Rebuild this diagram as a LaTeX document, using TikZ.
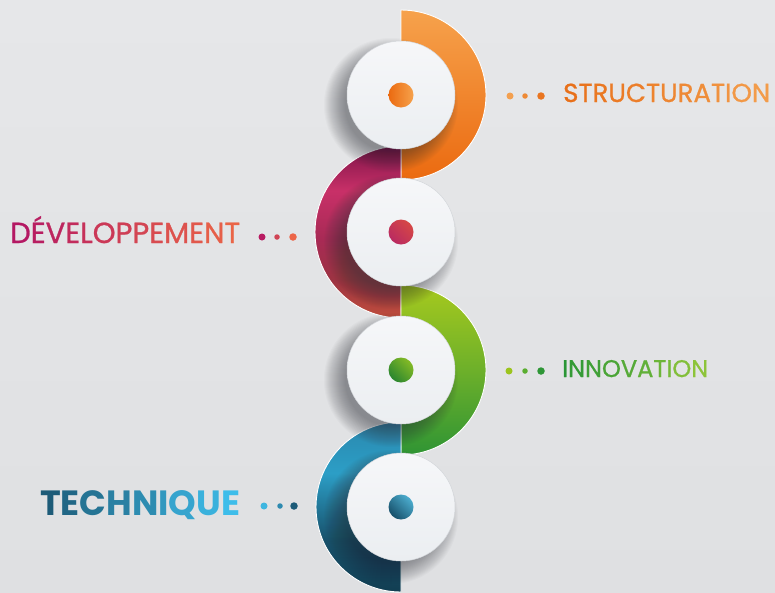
\documentclass[tikz,border=0pt]{standalone}
\usepackage{fontspec}
\setmainfont{Poppins}
\newfontfamily\medfont[FakeBold=0.9]{Poppins}
\definecolor{bgA}{HTML}{E6E7E9}
\definecolor{bgB}{HTML}{DFE0E2}
\definecolor{orT}{HTML}{F6A24C}
\definecolor{orB}{HTML}{EB6A10}
\definecolor{mg1}{HTML}{C04E3C}
\definecolor{mg2}{HTML}{9C3342}
\definecolor{mg3}{HTML}{A82A55}
\definecolor{mg4}{HTML}{C83068}
\definecolor{mg5}{HTML}{7E1348}
\definecolor{gr1}{HTML}{2F9434}
\definecolor{gr2}{HTML}{6DB02A}
\definecolor{gr3}{HTML}{A6C91E}
\definecolor{bl1}{HTML}{123E52}
\definecolor{bl2}{HTML}{17506A}
\definecolor{bl3}{HTML}{2C9EC6}
\definecolor{bl4}{HTML}{2A88AE}
\definecolor{discT}{HTML}{F6F7F9}
\definecolor{discB}{HTML}{EBEEF1}
\definecolor{discE}{HTML}{D3D6DA}
\definecolor{shd}{HTML}{30323A}
\definecolor{oA}{HTML}{E8701A}\definecolor{oB}{HTML}{F39C4A}
\definecolor{mA}{HTML}{B41863}\definecolor{mB}{HTML}{EA6547}
\definecolor{gA1}{HTML}{2A9636}\definecolor{gB1}{HTML}{8DC43A}
\definecolor{tA}{HTML}{1D5B78}\definecolor{tB}{HTML}{3EBDEA}
\definecolor{dO1}{HTML}{F3A050}\definecolor{dO2}{HTML}{EE8A35}\definecolor{dO3}{HTML}{E97520}
\definecolor{dM1}{HTML}{B81B62}\definecolor{dM2}{HTML}{D04455}\definecolor{dM3}{HTML}{EC6548}
\definecolor{dG1}{HTML}{9CC41E}\definecolor{dG2}{HTML}{5AAE30}\definecolor{dG3}{HTML}{2E9636}
\definecolor{dB1}{HTML}{3EB6E0}\definecolor{dB2}{HTML}{2E8AB0}\definecolor{dB3}{HTML}{1D5B78}
\pgfdeclareverticalshading{shOr}{100bp}{color(0bp)=(orB); color(25bp)=(orB); color(75bp)=(orT); color(100bp)=(orT)}
\pgfdeclareverticalshading{shMg}{100bp}{color(0bp)=(mg1); color(25bp)=(mg1); color(36bp)=(mg2); color(48bp)=(mg3); color(62bp)=(mg4); color(75bp)=(mg5); color(100bp)=(mg5)}
\pgfdeclareverticalshading{shGr}{100bp}{color(0bp)=(gr1); color(25bp)=(gr1); color(50bp)=(gr2); color(75bp)=(gr3); color(100bp)=(gr3)}
\pgfdeclareverticalshading{shBl}{100bp}{color(0bp)=(bl1); color(25bp)=(bl1); color(40bp)=(bl2); color(60bp)=(bl3); color(75bp)=(bl4); color(100bp)=(bl4)}
% #1 first colour, #2 last colour, #3 percent of last colour, #4 letter
\newcommand\gch[4]{{\color{#2!#3!#1}#4}}
\begin{document}
\begin{tikzpicture}[x=1pt,y=-1pt,
  ringedge/.style={draw=white, line width=0.9pt},
  disc/.style={circle, minimum size=108pt, inner sep=0pt, top color=discT, bottom color=discB, draw=discE, line width=0.5pt},
  softshade/.style={fill=shd, opacity=0.027},
  core/.style={circle, minimum size=25pt, inner sep=0pt},
  tdot/.style={circle, inner sep=0pt, minimum size=#1},
  lbl/.style={anchor=base west, inner sep=0pt}]
\useasboundingbox (0,0) rectangle (775,592);
\fill[top color=bgA, bottom color=bgB] (0,0) rectangle (775,592);

% half rings
\path[shading=shOr, ringedge] (401,10) arc[start angle=-90, end angle=90, radius=85] -- cycle;
\path[shading=shMg, ringedge] (401,146) arc[start angle=-90, end angle=-270, radius=86] -- cycle;
\path[shading=shGr, ringedge] (401,285) arc[start angle=-90, end angle=90, radius=85] -- cycle;
\path[shading=shBl, ringedge] (401,422) arc[start angle=-90, end angle=-270, radius=85] -- cycle;

% soft shadows of the discs
\foreach \cy in {95,232,370,507}{
  \foreach \r in {46,...,67}{
    \fill[softshade] (391,\cy+10) circle[radius=\r];
  }
}

% white discs
\node[disc] (c1) at (401,95) {};
\node[disc] (c2) at (401,232) {};
\node[disc] (c3) at (401,370) {};
\node[disc] (c4) at (401,507) {};

% cores
\node[core, left color=orB, right color=orT] (k1) at (c1) {};
\node[core, top color=orB!40!mg4, bottom color=mg4!80!mg5, shading angle=-45] (k2) at (c2) {};
\node[core, top color=gr2!60!gr3, bottom color=gr1!90!black, shading angle=-45] (k3) at (c3) {};
\node[core, top color=bl3!85!white, bottom color=bl2, shading angle=-45] (k4) at (c4) {};

% labels
\node[lbl] (t1) at (563,102) {\resizebox{207pt}{!}{\medfont\gch{oA}{oB}{0}{S}\gch{oA}{oB}{8}{T}\gch{oA}{oB}{17}{R}\gch{oA}{oB}{25}{U}\gch{oA}{oB}{33}{C}\gch{oA}{oB}{42}{T}\gch{oA}{oB}{50}{U}\gch{oA}{oB}{58}{R}\gch{oA}{oB}{67}{A}\gch{oA}{oB}{75}{T}\gch{oA}{oB}{83}{I}\gch{oA}{oB}{92}{O}\gch{oA}{oB}{100}{N}}};
\node[lbl] (t2) at (10,243) {\resizebox{230pt}{!}{\medfont\gch{mA}{mB}{0}{D}\gch{mA}{mB}{8}{É}\gch{mA}{mB}{17}{V}\gch{mA}{mB}{25}{E}\gch{mA}{mB}{33}{L}\gch{mA}{mB}{42}{O}\gch{mA}{mB}{50}{P}\gch{mA}{mB}{58}{P}\gch{mA}{mB}{67}{E}\gch{mA}{mB}{75}{M}\gch{mA}{mB}{83}{E}\gch{mA}{mB}{92}{N}\gch{mA}{mB}{100}{T}}};
\node[lbl] (t3) at (562,377) {\resizebox{146pt}{!}{\medfont\gch{gA1}{gB1}{0}{I}\gch{gA1}{gB1}{11}{N}\gch{gA1}{gB1}{22}{N}\gch{gA1}{gB1}{33}{O}\gch{gA1}{gB1}{44}{V}\gch{gA1}{gB1}{56}{A}\gch{gA1}{gB1}{67}{T}\gch{gA1}{gB1}{78}{I}\gch{gA1}{gB1}{89}{O}\gch{gA1}{gB1}{100}{N}}};
\node[lbl] (t4) at (40,515) {\resizebox{200pt}{!}{\bfseries\gch{tA}{tB}{0}{T}\gch{tA}{tB}{12}{E}\gch{tA}{tB}{25}{C}\gch{tA}{tB}{38}{H}\gch{tA}{tB}{50}{N}\gch{tA}{tB}{62}{I}\gch{tA}{tB}{75}{Q}\gch{tA}{tB}{88}{U}\gch{tA}{tB}{100}{E}}};

% dots
\node[tdot=7pt, fill=dO1] (d1a) at (510,96) {};
\node[tdot=5.5pt, fill=dO2] (d1b) at (525,96) {};
\node[tdot=7.5pt, fill=dO3] (d1c) at (541,96) {};
\node[tdot=7pt, fill=dM1] (d2a) at (262,237) {};
\node[tdot=5.5pt, fill=dM2] (d2b) at (277,237) {};
\node[tdot=7.5pt, fill=dM3] (d2c) at (293,237) {};
\node[tdot=7pt, fill=dG1] (d3a) at (509,371) {};
\node[tdot=5.5pt, fill=dG2] (d3b) at (525,371) {};
\node[tdot=7.5pt, fill=dG3] (d3c) at (541,371) {};
\node[tdot=7pt, fill=dB1] (d4a) at (264,506) {};
\node[tdot=5.5pt, fill=dB2] (d4b) at (280,506) {};
\node[tdot=7.5pt, fill=dB3] (d4c) at (294,506) {};
\end{tikzpicture}
\end{document}
